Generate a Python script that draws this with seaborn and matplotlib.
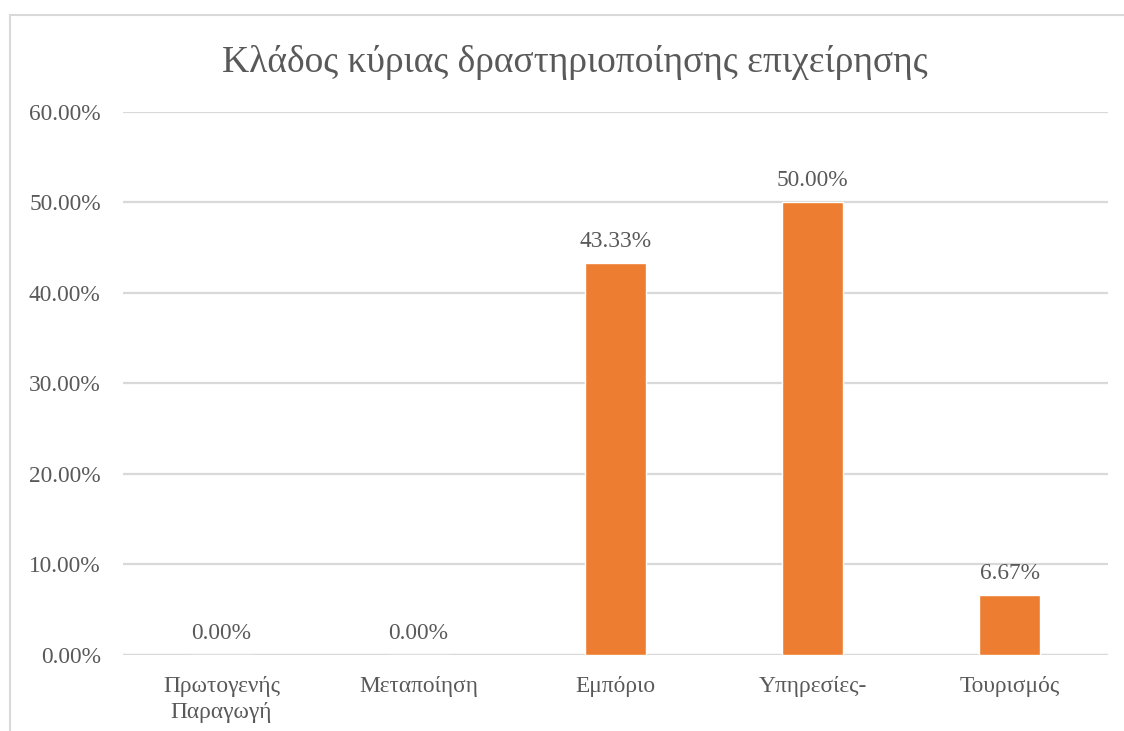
import matplotlib
matplotlib.use("Agg")
import matplotlib.pyplot as plt
import seaborn as sns
from matplotlib.lines import Line2D
from matplotlib.ticker import PercentFormatter

# data
categories = ["Πρωτογενής\nΠαραγωγή", "Μεταποίηση", "Εμπόριο", "Υπηρεσίες-", "Τουρισμός"]
shares = [0.0, 0.0, 43.33, 50.00, 6.67]
title = "Κλάδος κύριας δραστηριοποίησης επιχείρησης"

bar_color = "#ED7D31"
text_color = "#595959"
grid_color = "#D9D9D9"

sns.set_style("white")
plt.rcParams['font.family'] = ['Liberation Serif', 'DejaVu Serif']

fig = plt.figure(figsize=(11.24, 7.31), dpi=100)
ax = fig.add_axes([0.1094, 0.1040, 0.8764, 0.7428])

sns.barplot(x=categories, y=shares, color=bar_color, width=0.31, saturation=1, ax=ax)

ax.set_ylim(0, 60)
ax.set_yticks([0, 10, 20, 30, 40, 50, 60])
ax.yaxis.set_major_formatter(PercentFormatter(decimals=2))
ax.yaxis.grid(True, color=grid_color, lw=1.6)
ax.set_axisbelow(True)
for s in ax.spines.values():
    s.set_visible(False)
ax.axhline(0, color=grid_color, lw=1.6, zorder=0.5)

ax.tick_params(axis='y', length=0, pad=16, labelsize=16.8, labelcolor=text_color)
ax.tick_params(axis='x', length=0, pad=15, labelsize=16.8, labelcolor=text_color)
for lbl in ax.get_xticklabels():
    lbl.set_linespacing(1.3)

ax.bar_label(ax.containers[0], labels=[f"{v:.2f}%" for v in shares],
             padding=8, fontsize=16.8, color=text_color)

fig.text(0.5116, 0.915, title, ha='center', va='center', fontsize=27, color=text_color)

# light chart frame (top and left edges visible)
fig.add_artist(Line2D([10/1124, 1.0], [1 - 15/731, 1 - 15/731], color=grid_color, lw=1.5))
fig.add_artist(Line2D([10/1124, 10/1124], [0.0, 1 - 15/731], color=grid_color, lw=1.5))

fig.savefig("out.png", dpi=100)
